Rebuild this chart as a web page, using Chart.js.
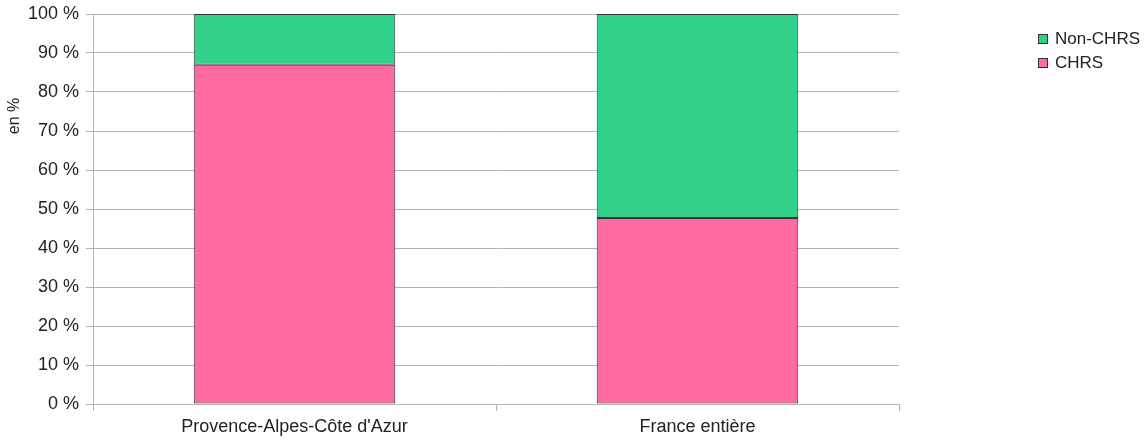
<!DOCTYPE html>
<html lang="fr">
<head>
  <meta charset="UTF-8">
  <title>CHRS / Non-CHRS</title>
  <script src="https://cdn.jsdelivr.net/npm/chart.js"></script>
  <style>
    html, body { margin: 0; padding: 0; background: #fff; }
    #wrap { width: 1148px; height: 441px; }
  </style>
</head>
<body>
  <div id="wrap"><canvas id="chart"></canvas></div>
  <script>
    const categories = ["Provence-Alpes-Côte d'Azur", "France entière"];
    const chrs = [87, 47.7];
    const nonChrs = [13, 52.3];
    const yTicks = [0, 10, 20, 30, 40, 50, 60, 70, 80, 90, 100];
    const yTitle = "en %";

    const gridColor = "#b3b3b3";
    const fontFam = "'Liberation Sans', Arial, sans-serif";
    const font = { family: fontFam, size: 18 };

    // legend + axis title drawn by hand, placed like the original
    const extras = {
      id: "extras",
      afterDraw(chart) {
        const c = chart.ctx;
        const items = [chart.data.datasets[1], chart.data.datasets[0]];
        c.save();
        c.font = "17px " + fontFam;
        c.textBaseline = "middle";
        items.forEach((ds, i) => {
          const y = 39 + i * 24;
          c.fillStyle = ds.backgroundColor;
          c.fillRect(1038, y - 5, 10, 10);
          c.strokeStyle = "#333";
          c.lineWidth = 1;
          c.strokeRect(1038.5, y - 4.5, 9, 9);
          c.fillStyle = "#222";
          c.fillText(ds.label, 1055, y);
        });

        c.translate(15, 116);
        c.rotate(-Math.PI / 2);
        c.font = "16px " + fontFam;
        c.textAlign = "center";
        c.fillText(yTitle, 0, 0);
        c.restore();
      }
    };

    new Chart(document.getElementById("chart"), {
      type: "bar",
      data: {
        labels: categories,
        datasets: [
          {
            label: "CHRS",
            data: chrs,
            backgroundColor: "#ff6aa0",
            borderColor: "#333333",
            borderWidth: 1,
            borderSkipped: false
          },
          {
            label: "Non-CHRS",
            data: nonChrs,
            backgroundColor: "#32d18a",
            borderColor: "#333333",
            borderWidth: 1,
            borderSkipped: false
          }
        ]
      },
      options: {
        responsive: true,
        maintainAspectRatio: false,
        animation: false,
        layout: { padding: { top: 14, right: 249, left: 0, bottom: 0 } },
        datasets: { bar: { categoryPercentage: 1, barPercentage: 0.5 } },
        plugins: {
          legend: { display: false },
          tooltip: { enabled: false }
        },
        scales: {
          x: {
            stacked: true,
            grid: {
              offset: true,
              drawOnChartArea: false,
              color: gridColor,
              tickLength: 7
            },
            border: { color: gridColor },
            ticks: { color: "#222", font: font, padding: 5 },
            afterFit(scale) { scale.height = 37; }
          },
          y: {
            stacked: true,
            min: 0,
            max: 100,
            afterBuildTicks(scale) {
              scale.ticks = yTicks.map(v => ({ value: v }));
            },
            grid: { color: gridColor, tickLength: 7 },
            border: { color: gridColor },
            ticks: {
              color: "#222",
              font: font,
              padding: 7,
              callback: v => v + " %"
            },
            afterFit(scale) {
              scale.width = 93;
              scale.paddingTop = 0;
              scale.paddingBottom = 0;
            }
          }
        }
      },
      plugins: [extras]
    });
  </script>
</body>
</html>
